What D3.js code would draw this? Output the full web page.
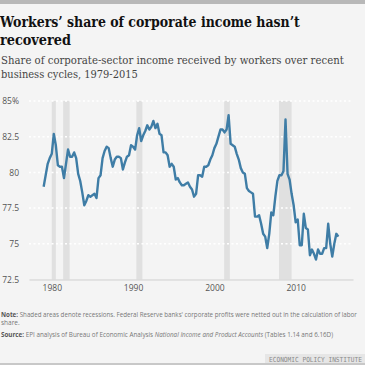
<!DOCTYPE html>
<html>
<head>
<meta charset="utf-8">
<script src="https://cdn.jsdelivr.net/npm/d3@7"></script>
<style>
  html, body { margin: 0; padding: 0; background: #f4f4f4; }
  svg { display: block; }
</style>
</head>
<body>
<div id="chart"></div>
<script>
// quarterly labor share, 1979Q1 - 2015Q2
const startYear = 1979;
const share = [
  79.0, 79.8, 80.6, 81.0,   // 1979
  81.3, 82.7, 81.9, 80.5,   // 1980
  80.4, 80.4, 79.6, 80.6,   // 1981
  81.6, 81.1, 81.1, 81.4,   // 1982
  81.0, 79.9, 79.4, 78.6,   // 1983
  77.7, 78.0, 78.4, 78.3,   // 1984
  78.4, 78.5, 78.2, 79.6,   // 1985
  79.8, 81.0, 81.5, 81.8,   // 1986
  81.7, 81.0, 80.4, 80.9,   // 1987
  81.1, 81.1, 81.0, 80.2,   // 1988
  80.7, 81.1, 81.2, 81.9,   // 1989
  81.8, 81.6, 82.6, 83.1,   // 1990
  82.2, 82.6, 82.9, 83.3,   // 1991
  83.0, 83.2, 83.6, 83.1,   // 1992
  83.4, 82.7, 82.6, 81.4,   // 1993
  81.4, 81.2, 80.4, 80.6,   // 1994
  80.4, 79.5, 79.6, 79.3,   // 1995
  79.1, 79.1, 79.2, 79.3,   // 1996
  79.0, 78.8, 78.3, 78.5,   // 1997
  79.8, 79.8, 79.7, 80.4,   // 1998
  80.4, 80.5, 80.9, 81.2,   // 1999
  81.7, 82.0, 82.5, 83.0,   // 2000
  83.0, 82.8, 83.0, 84.0,   // 2001
  82.0, 81.9, 81.8, 81.3,   // 2002
  80.9, 80.3, 80.0, 79.9,   // 2003
  78.9, 78.7, 78.6, 78.5,   // 2004
  76.9, 76.9, 77.0, 76.4,   // 2005
  75.7, 75.5, 74.7, 75.7,   // 2006
  77.2, 77.0, 78.3, 79.4,   // 2007
  79.8, 79.8, 80.1, 83.7,   // 2008
  79.9, 79.5, 78.5, 77.7,   // 2009
  76.5, 76.7, 74.9, 74.9,   // 2010
  77.1, 76.1, 76.0, 74.2,   // 2011
  74.6, 74.3, 73.9, 74.6,   // 2012
  74.3, 74.3, 74.7, 74.7,   // 2013
  76.4, 75.0, 74.1, 75.0,   // 2014
  75.7, 75.5                // 2015
];

// recession shading, decimal years
const recStart = [1980.0, 1981.4, 1990.4, 2001.2, 2007.95];
const recEnd   = [1980.5, 1982.2, 1991.15, 2001.9, 2009.5];

const yTicks = [72.5, 75, 77.5, 80, 82.5, 85];
const xTicks = [1980, 1990, 2000, 2010];

const W = 365, H = 365;

const svg = d3.select("#chart").append("svg")
    .attr("width", W)
    .attr("height", H);

// squeeze a text horizontally to a given width (instead of textLength)
function fit(t, x0, y0, target) {
    const w = t.node().getComputedTextLength();
    t.attr("x", 0).attr("y", 0)
        .attr("transform", "translate(" + x0 + "," + y0 + ") scale(" + (target / w) + ",1)");
    return t;
}

svg.append("rect").attr("width", W).attr("height", H).attr("fill", "#f4f4f4");
// top and bottom bars
svg.append("rect").attr("x", 0).attr("y", 0).attr("width", W).attr("height", 4).attr("fill", "#b8b8b8");
svg.append("rect").attr("x", 0).attr("y", 363).attr("width", W).attr("height", 2).attr("fill", "#c8c8c8");

// title + subtitle
fit(svg.append("text")
    .attr("font-family", "DejaVu Serif")
    .attr("font-weight", "bold")
    .attr("font-size", 14.5)
    .attr("fill", "#111")
    .text("Workers’ share of corporate income hasn’t"), 0, 27, 300);
fit(svg.append("text")
    .attr("font-family", "DejaVu Serif")
    .attr("font-weight", "bold")
    .attr("font-size", 14.5)
    .attr("fill", "#111")
    .text("recovered"), 0, 45, 71);

fit(svg.append("text")
    .attr("font-family", "DejaVu Serif")
    .attr("font-size", 11)
    .attr("fill", "#444")
    .text("Share of corporate-sector income received by workers over recent"), 1, 64, 343);
fit(svg.append("text")
    .attr("font-family", "DejaVu Serif")
    .attr("font-size", 11)
    .attr("fill", "#444")
    .text("business cycles, 1979-2015"), 1, 78, 137);

// plot area
const x = d3.scaleLinear().domain([1977.2, 2017.05]).range([29, 353]);
const y = d3.scaleLinear().domain([72.5, 85]).range([279.5, 101]);

const g = svg.append("g");

// recessions
g.selectAll("rect.rec")
    .data(recStart)
    .enter()
    .append("rect")
    .attr("class", "rec")
    .attr("x", (d) => x(d))
    .attr("y", y(85))
    .attr("width", (d, i) => x(recEnd[i]) - x(d))
    .attr("height", y(72.5) - y(85))
    .attr("fill", "#e0e0e0");

// gridlines
g.selectAll("line.grid")
    .data(yTicks.filter(d => d > 72.5))
    .enter()
    .append("line")
    .attr("class", "grid")
    .attr("x1", 29).attr("x2", 353)
    .attr("y1", d => y(d)).attr("y2", d => y(d))
    .attr("stroke", "#ffffff")
    .attr("stroke-width", 1.5)
    .attr("stroke-dasharray", "2,2.5");

// y axis
const yAxis = g.append("g")
    .attr("transform", "translate(19,0)")
    .call(d3.axisLeft(y).tickValues(yTicks).tickSize(0).tickPadding(0)
        .tickFormat(d => d === 85 ? "85%" : d));
yAxis.select(".domain").remove();
yAxis.selectAll("text")
    .attr("font-family", "Open Sans")
    .attr("font-size", 8.5)
    .attr("fill", "#555");

// x axis
const xAxis = g.append("g")
    .attr("transform", "translate(0," + y(72.5) + ")")
    .call(d3.axisBottom(x).tickValues(xTicks).tickSize(0).tickPadding(5).tickFormat(d3.format("d")));
xAxis.select(".domain").attr("stroke", "#cfcfcf").attr("stroke-width", 1);
xAxis.selectAll("text")
    .attr("font-family", "Open Sans")
    .attr("font-size", 8.5)
    .attr("fill", "#555");

// line
const line = d3.line()
    .x((d, i) => x(startYear + i / 4))
    .y(d => y(d));

g.append("path")
    .datum(share)
    .attr("fill", "none")
    .attr("stroke", "#3f7da6")
    .attr("stroke-width", 2.4)
    .attr("stroke-linejoin", "round")
    .attr("d", line);

// notes
const note1 = svg.append("text")
    .attr("font-family", "Open Sans")
    .attr("font-size", 6.5)
    .attr("fill", "#777");
note1.append("tspan").attr("font-weight", "bold").attr("fill", "#555").text("Note: ");
note1.append("tspan").text("Shaded areas denote recessions. Federal Reserve banks' corporate profits were netted out in the calculation of labor");
fit(note1, 1, 317, 356);

svg.append("text")
    .attr("x", 1).attr("y", 325)
    .attr("font-family", "Open Sans")
    .attr("font-size", 6.5)
    .attr("fill", "#777")
    .text("share.");

const src = svg.append("text")
    .attr("font-family", "Open Sans")
    .attr("font-size", 6.5)
    .attr("fill", "#777");
src.append("tspan").attr("font-weight", "bold").attr("fill", "#555").text("Source: ");
src.append("tspan").text("EPI analysis of Bureau of Economic Analysis ");
src.append("tspan").attr("font-style", "italic").text("National Income and Product Accounts");
src.append("tspan").text(" (Tables 1.14 and 6.16D)");
fit(src, 1, 337, 333);

// logo box
svg.append("rect")
    .attr("x", 265).attr("y", 354).attr("width", 100).attr("height", 9)
    .attr("fill", "#e6e6e6");
fit(svg.append("text")
    .attr("font-family", "DejaVu Sans Mono")
    .attr("font-size", 7)
    .attr("fill", "#8a8a8a")
    .text("ECONOMIC POLICY INSTITUTE"), 269, 362, 93);
</script>
</body>
</html>
